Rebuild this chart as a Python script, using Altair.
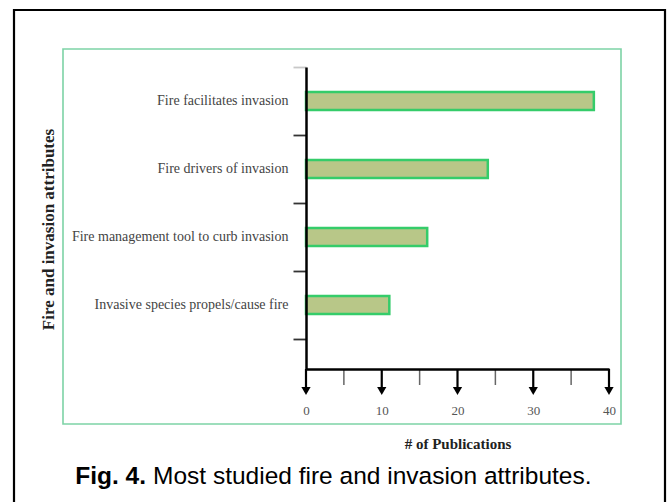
import altair as alt
import pandas as pd

# ---- data ----
categories = [
    "Fire facilitates invasion",
    "Fire drivers of invasion",
    "Fire management tool to curb invasion",
    "Invasive species propels/cause fire",
]
publications = [38, 24, 16, 11]
major_ticks = [0, 10, 20, 30, 40]
minor_ticks = [5, 15, 25, 35]
x_title = "# of Publications"
y_title = "Fire and invasion attributes"
caption_bold = "Fig. 4."
caption_text = "Most studied fire and invasion attributes."

# ---- layout (plot area placement inside the 668x502 canvas) ----
PL, PT = 306, 67
W, H = 303, 302

bars_df = pd.DataFrame({"attribute": categories, "count": publications})
major_df = pd.DataFrame({"count": major_ticks})
minor_df = pd.DataFrame({"count": minor_ticks})
one = pd.DataFrame({"a": [0]})

xscale = alt.Scale(domain=[0, 40], nice=False, zero=True)
yscale = alt.Scale(domain=categories, paddingInner=0, paddingOuter=0.2206, align=0)

serif = "Liberation Serif"
sans = "Liberation Sans"

xaxis = alt.Axis(
    values=major_ticks,
    ticks=False,
    tickSize=0,
    grid=False,
    domainColor="black",
    domainWidth=2.5,
    labelPadding=35,
    labelFlush=False,
    labelFont=serif,
    labelFontSize=13,
    labelColor="#555555",
    title=x_title,
    titleFont=serif,
    titleFontSize=15,
    titleFontWeight="bold",
    titleColor="#222222",
    titleY=74,
    titleBaseline="middle",
    zindex=1,
)

xenc = alt.X("count:Q", scale=xscale, axis=xaxis, title=x_title)

tick_color = {
    "condition": {"test": "datum.extra", "value": "#c8c8c8"},
    "value": "#333333",
}

bars = alt.Chart(bars_df).mark_bar(
    size=18, fill="#b8c788", stroke="#35cc6a", strokeWidth=2.5
).encode(
    x=xenc,
    y=alt.Y(
        "attribute:N",
        scale=yscale,
        sort=None,
        axis=alt.Axis(
            tickBand="extent",
            tickSize=13,
            tickColor=tick_color,
            tickWidth=1.8,
            domainColor="black",
            domainWidth=2.5,
            labelPadding=5,
            labelFont=serif,
            labelFontSize=14,
            labelColor="#444444",
            labelLimit=400,
            title=y_title,
            titleFont=serif,
            titleFontSize=17,
            titleFontWeight="bold",
            titleColor="#222222",
            titleAngle=270,
            titleX=48 - PL,
            titleY=229 - PT,
            titleAlign="center",
            titleBaseline="middle",
            grid=False,
            zindex=1,
        ),
    ),
)

minor = alt.Chart(minor_df).mark_rule(color="#666666", strokeWidth=1.5).encode(
    x=xenc,
    y=alt.value(H),
    y2=alt.value(H + 16),
)

shaft = alt.Chart(major_df).mark_rule(color="black", strokeWidth=2.2).encode(
    x=xenc,
    y=alt.value(H),
    y2=alt.value(H + 19),
)

head = alt.Chart(major_df).mark_point(
    shape="triangle-down", filled=True, color="black", opacity=1, size=85
).encode(
    x=xenc,
    y=alt.value(H + 22),
)

outer = alt.Chart(one).mark_rect(
    fillOpacity=0, stroke="black", strokeWidth=2.2
).encode(
    x=alt.value(14 - PL), x2=alt.value(665 - PL),
    y=alt.value(10 - PT), y2=alt.value(530 - PT),
)

inner = alt.Chart(one).mark_rect(
    fillOpacity=0, stroke="#7dd3a6", strokeWidth=1.6
).encode(
    x=alt.value(63 - PL), x2=alt.value(621 - PL),
    y=alt.value(49 - PT), y2=alt.value(424 - PT),
)

cap1 = alt.Chart(one).mark_text(
    text=caption_bold, font=sans, fontSize=24.5, fontWeight="bold",
    align="right", baseline="middle", color="black"
).encode(x=alt.value(146 - PL), y=alt.value(477 - PT))

cap2 = alt.Chart(one).mark_text(
    text=caption_text, font=sans, fontSize=24.5,
    align="left", baseline="middle", color="black"
).encode(x=alt.value(153 - PL), y=alt.value(477 - PT))

chart = alt.layer(bars, minor, shaft, head, inner, outer, cap1, cap2).properties(
    width=W,
    height=H,
    autosize=alt.AutoSizeParams(type="none"),
    padding={"left": PL, "top": PT, "right": 668 - PL - W, "bottom": 502 - PT - H},
    background="white",
).configure_view(stroke=None)

chart.save("out.html", embed_options={"renderer": "svg", "actions": False})
